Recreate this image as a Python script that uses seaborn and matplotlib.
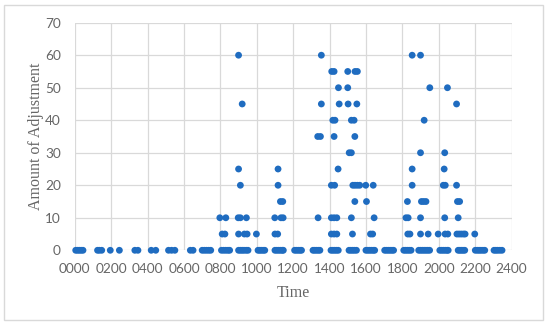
import pandas as pd
import seaborn as sns
import matplotlib.pyplot as plt
from matplotlib.patches import Rectangle

# Time of day (HHMM) of each adjustment, grouped by the amount of adjustment
t_0 = [5, 15, 25, 35, 45, 125, 135, 148, 195, 245, 330, 347, 420, 445, 515, 532, 550,
       635, 650, 700, 712, 724, 736, 747, 806, 818, 830, 842, 851,
       900, 910, 920, 930, 942, 952, 1007, 1016, 1025, 1035, 1044,
       1100, 1110, 1120, 1130, 1140, 1146, 1208, 1218, 1228, 1238, 1246,
       1309, 1318, 1328, 1338, 1347, 1408, 1418, 1428, 1438, 1448,
       1507, 1517, 1527, 1537, 1548, 1600, 1610, 1620, 1630, 1640, 1648,
       1703, 1713, 1723, 1733, 1743, 1752, 1808, 1818, 1828, 1838, 1848,
       1890, 1900, 1910, 1920, 1930, 1940, 1950, 2006, 2016, 2026, 2036, 2046, 2052,
       2107, 2116, 2125, 2134, 2143, 2201, 2212, 2222, 2232, 2243, 2253,
       2304, 2314, 2324, 2336, 2348]
t_5 = [810, 825, 900, 932, 947, 998, 1100, 1115, 1410, 1425, 1440, 1526, 1625, 1637,
       1830, 1842, 1900, 1942, 1997, 2035, 2050, 2100, 2112, 2124, 2136, 2145, 2198]
t_10 = [797, 830, 898, 910, 943, 1099, 1133, 1145, 1337, 1410, 1425, 1440, 1520, 1645,
        1820, 1832, 1900, 2033, 2107]
t_15 = [1130, 1143, 1539, 1603, 1828, 1905, 1917, 1930, 2103, 2115]
t_20 = [910, 1117, 1410, 1428, 1528, 1540, 1553, 1566, 1599, 1640, 1854, 2025, 2036, 2098]
t_25 = [900, 1117, 1447, 1854, 2030]
t_30 = [1508, 1520, 1900, 2033]
t_35 = [1335, 1350, 1425, 1539]
t_40 = [1418, 1430, 1520, 1535, 1920]
t_45 = [920, 1355, 1453, 1502, 1550, 2098]
t_50 = [1449, 1500, 1951, 2048]
t_55 = [1412, 1425, 1500, 1540, 1553]
t_60 = [900, 1355, 1854, 1900]

amounts = [0, 5, 10, 15, 20, 25, 30, 35, 40, 45, 50, 55, 60]
groups = [t_0, t_5, t_10, t_15, t_20, t_25, t_30, t_35, t_40, t_45, t_50, t_55, t_60]

rows = []
for amt, times in zip(amounts, groups):
    for t in times:
        rows.append({"Time": t, "Amount": amt})
df = pd.DataFrame(rows)

sns.set_theme(style="whitegrid")
plt.rcParams["font.family"] = ["Lato", "DejaVu Sans"]

fig = plt.figure(figsize=(5.5, 3.27), dpi=100)
ax = fig.add_axes([0.136, 0.2346, 0.794, 0.696])

sns.scatterplot(data=df, x="Time", y="Amount", ax=ax, color="#1f6cc0", s=24,
                edgecolor="none", clip_on=False, zorder=3)

ax.set_xlim(0, 2400)
ax.set_ylim(0, 70)
ax.set_xticks(range(0, 2401, 200))
ax.set_xticklabels([f"{t:04d}" for t in range(0, 2401, 200)])
ax.set_yticks(range(0, 71, 10))
ax.grid(True, color="#d9d9d9", linewidth=0.9)
for s in ax.spines.values():
    s.set_visible(False)
ax.tick_params(length=0, labelsize=9.8, labelcolor="#666666")
ax.tick_params(axis="x", pad=9)
ax.tick_params(axis="y", pad=10)

serif = ["Liberation Serif", "DejaVu Serif"]
ax.set_xlabel("Time", family=serif, fontsize=11.5, color="#666666", labelpad=7)
ax.set_ylabel("Amount of Adjustment", family=serif, fontsize=11.5, color="#666666", labelpad=1)

# light frame round the whole chart
fig.patches.append(Rectangle((0.007, 0.021), 0.98, 0.963, transform=fig.transFigure,
                             fill=False, edgecolor="#d9d9d9", linewidth=1))

fig.savefig("out.png", dpi=100)
